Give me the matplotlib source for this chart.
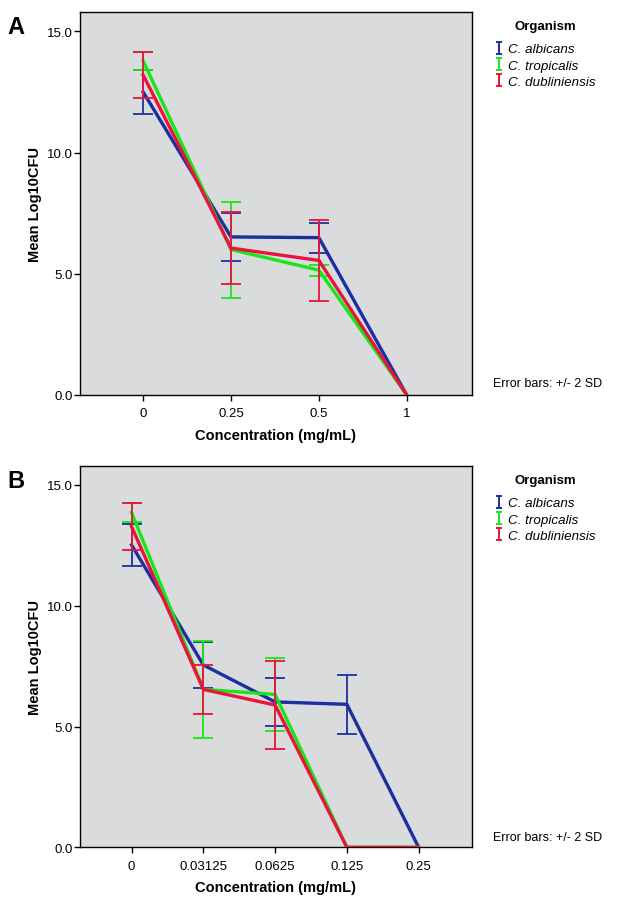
#!/usr/bin/env python3
"""Mean Log10CFU vs concentration for three Candida species (panels A and B)."""

import matplotlib
matplotlib.use("Agg")
import matplotlib.pyplot as plt
from matplotlib.path import Path
from matplotlib.lines import Line2D

plt.rcParams["font.family"] = ["Liberation Sans", "DejaVu Sans"]

organisms = ["C. albicans", "C. tropicalis", "C. dubliniensis"]
colors = ["#1c2fa0", "#19e619", "#e8143c"]

# panel A
conc_a = ["0", "0.25", "0.5", "1"]
mean_a = {
    "C. albicans": [12.5, 6.52, 6.49, 0.0],
    "C. tropicalis": [13.78, 6.0, 5.15, 0.0],
    "C. dubliniensis": [13.2, 6.06, 5.55, 0.0],
}
sd2_a = {
    "C. albicans": [0.92, 1.0, 0.62, 0.0],
    "C. tropicalis": [0.38, 1.98, 0.23, 0.0],
    "C. dubliniensis": [0.96, 1.5, 1.68, 0.0],
}

# panel B
conc_b = ["0", "0.03125", "0.0625", "0.125", "0.25"]
mean_b = {
    "C. albicans": [12.52, 7.55, 6.02, 5.92, 0.0],
    "C. tropicalis": [13.86, 6.54, 6.33, 0.0, 0.0],
    "C. dubliniensis": [13.28, 6.54, 5.89, 0.0, 0.0],
}
sd2_b = {
    "C. albicans": [0.88, 0.97, 1.0, 1.21, 0.0],
    "C. tropicalis": [0.4, 2.01, 1.52, 0.0, 0.0],
    "C. dubliniensis": [0.97, 1.01, 1.82, 0.0, 0.0],
}

# little "I" marker for the legend
i_path = Path(
    [(-0.5, 1), (0.5, 1), (0, 1), (0, -1), (-0.5, -1), (0.5, -1)],
    [Path.MOVETO, Path.LINETO, Path.MOVETO, Path.LINETO, Path.MOVETO, Path.LINETO],
)

H = 912.0  # figure height in px, for placing the side texts


def draw_panel(fig, rect, cats, means, sds, label, top_px):
    ax = fig.add_axes(rect)
    ax.set_facecolor("#d9dbdd")
    x = list(range(len(cats)))
    for org, c in zip(organisms, colors):
        ax.plot(x, means[org], color=c, lw=2.4, zorder=3, solid_joinstyle="miter")
        # no bar where SD is zero (all dead)
        keep = [i for i in x if sds[org][i] > 0]
        ax.errorbar([x[i] for i in keep], [means[org][i] for i in keep],
                    yerr=[sds[org][i] for i in keep], fmt="none", ecolor=c,
                    elinewidth=1.3, capsize=7, capthick=1.3, zorder=3)
    ax.set_xticks(x)
    ax.set_xticklabels(cats)
    ax.set_xlim(-0.72, len(cats) - 1 + 0.74)
    ax.set_ylim(0, 15.8)
    ax.set_yticks([0, 5, 10, 15])
    ax.set_yticklabels(["0.0", "5.0", "10.0", "15.0"])
    ax.tick_params(direction="out", length=4, width=1, labelsize=9.5, colors="black")
    ax.tick_params(axis="x", pad=5)
    ax.tick_params(axis="y", pad=1)
    for s in ax.spines.values():
        s.set_linewidth(1)
    ax.set_xlabel("Concentration (mg/mL)", fontsize=10.5, fontweight="bold", labelpad=6)
    ax.set_ylabel("Mean Log10CFU", fontsize=10.5, fontweight="bold", labelpad=4)

    # panel letter
    fig.text(0.011, 1 - (top_px + 15) / H, label, fontsize=17,
             fontweight="bold", va="center", ha="left")

    # legend block: title on its own, then entries
    fig.text(545 / 629, 1 - (top_px + 14) / H, "Organism", fontsize=9.5,
             fontweight="bold", ha="center", va="center")
    handles = [Line2D([], [], color=c, marker=i_path, linestyle="none",
                      markersize=8, markeredgewidth=1.4) for c in colors]
    leg = fig.legend(handles, organisms, loc="upper left",
                     bbox_to_anchor=(0.787, 1 - (top_px + 31) / H), frameon=False,
                     fontsize=9.6, handlelength=0.6, handletextpad=0.4,
                     labelspacing=0.3, borderaxespad=0, borderpad=0)
    for t in leg.get_texts():
        t.set_fontstyle("italic")

    fig.text(0.784, 1 - (top_px + 371) / H, "Error bars: +/- 2 SD", fontsize=9,
             va="center", ha="left")
    return ax


fig = plt.figure(figsize=(6.29, 9.12), dpi=100)

draw_panel(fig, [0.127, 0.5658, 0.623, 0.420], conc_a, mean_a, sd2_a, "A", 13)
draw_panel(fig, [0.127, 0.0698, 0.623, 0.4185], conc_b, mean_b, sd2_b, "B", 467)

fig.savefig("out.png", dpi=100)
